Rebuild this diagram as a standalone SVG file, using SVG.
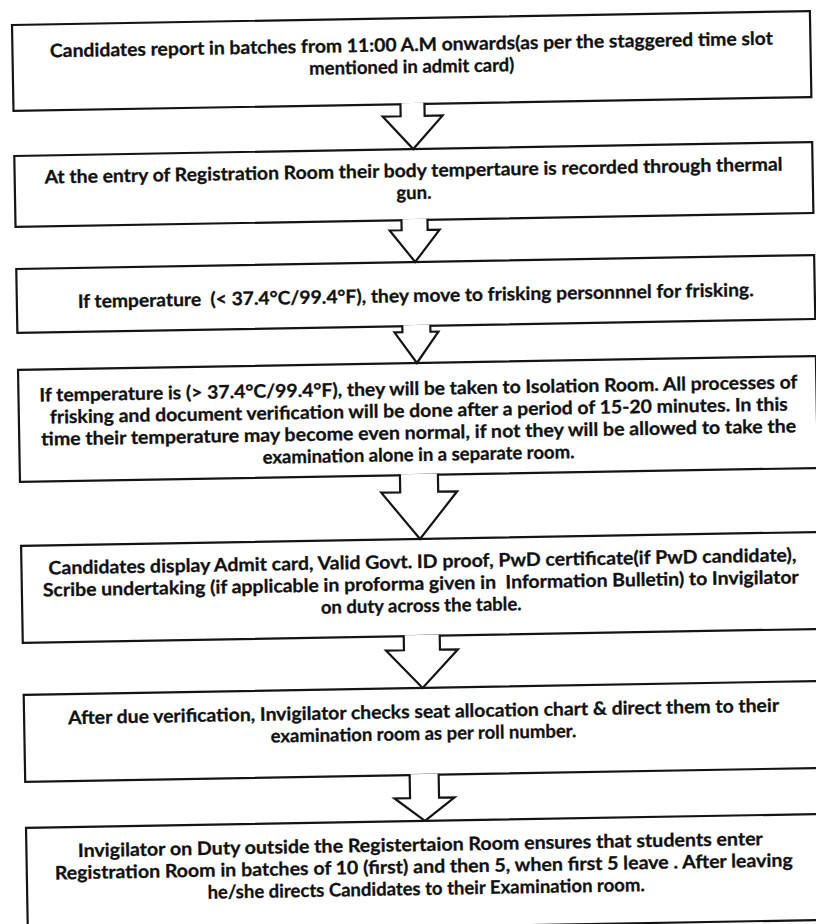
<svg xmlns="http://www.w3.org/2000/svg" width="816" height="924" viewBox="0 0 816 924">
<style>
.box{fill:#fff;stroke:#141414;stroke-width:2.2}
.arrow{fill:#fff;stroke:#141414;stroke-width:2.2;stroke-linejoin:miter}
.t{font-family:Lato,"Open Sans","Liberation Sans",sans-serif;font-weight:bold;font-size:18.5px;fill:#111;stroke:#111;stroke-width:0.3;text-anchor:middle}
</style>
<rect width="816" height="924" fill="#fff"/>
<g transform="rotate(-1 12 25)">
<g id="n1">
<rect class="box" x="12" y="25" width="798" height="86"/>
<text class="t" x="411" y="58" textLength="723" lengthAdjust="spacingAndGlyphs">Candidates report in batches from 11:00 A.M onwards(as per the staggered time slot</text>
<text class="t" x="411" y="80">mentioned in admit card)</text>
</g>
<g id="n2">
<rect class="box" x="12" y="156" width="798" height="71"/>
<text class="t" x="411" y="184" textLength="738" lengthAdjust="spacingAndGlyphs">At the entry of Registration Room their body tempertaure is recorded through thermal</text>
<text class="t" x="411" y="206">gun.</text>
</g>
<g id="n3">
<rect class="box" x="12" y="269" width="798" height="64"/>
<text class="t" x="411" y="309" textLength="676" lengthAdjust="spacingAndGlyphs" xml:space="preserve">If temperature  (&lt; 37.4°C/99.4°F), they move to frisking personnnel for frisking.</text>
</g>
<g id="n4">
<rect class="box" x="12" y="370" width="798" height="112"/>
<text class="t" x="412" y="402" textLength="758" lengthAdjust="spacingAndGlyphs">If temperature is (&gt; 37.4°C/99.4°F), they will be taken to Isolation Room. All processes of</text>
<text class="t" x="412" y="424" textLength="738" lengthAdjust="spacingAndGlyphs">frisking and document verification will be done after a period of 15-20 minutes. In this</text>
<text class="t" x="411.5" y="446" textLength="755" lengthAdjust="spacingAndGlyphs">time their temperature may become even normal, if not they will be allowed to take the</text>
<text class="t" x="411" y="468">examination alone in a separate room.</text>
</g>
<g id="n5">
<rect class="box" x="12" y="546" width="798" height="97"/>
<text class="t" x="413" y="575" textLength="748" lengthAdjust="spacingAndGlyphs">Candidates display Admit card, Valid Govt. ID proof, PwD certificate(if PwD candidate),</text>
<text class="t" x="411" y="597" textLength="756" lengthAdjust="spacingAndGlyphs" xml:space="preserve">Scribe undertaking (if applicable in proforma given in  Information Bulletin) to Invigilator</text>
<text class="t" x="411" y="619">on duty across the table.</text>
</g>
<g id="n6">
<rect class="box" x="12" y="695" width="798" height="87"/>
<text class="t" x="411.5" y="725" textLength="711" lengthAdjust="spacingAndGlyphs">After due verification, Invigilator checks seat allocation chart &amp; direct them to their</text>
<text class="t" x="411" y="747">examination room as per roll number.</text>
</g>
<g id="n7">
<rect class="box" x="12" y="828" width="798" height="106"/>
<text class="t" x="406" y="858" textLength="685" lengthAdjust="spacingAndGlyphs">Invigilator on Duty outside the Registertaion Room ensures that students enter</text>
<text class="t" x="409" y="880" textLength="738" lengthAdjust="spacingAndGlyphs">Registration Room in batches of 10 (first) and then 5, when first 5 leave . After leaving</text>
<text class="t" x="411" y="902">he/she directs Candidates to their Examination room.</text>
</g>
<g id="connectors">
<path class="arrow" d="M399,110 V123 H381 L411,156 L441,123 H423 V110"/>
<path class="arrow" d="M398,226 V237 H386 L411,269 L436,237 H424 V226"/>
<path class="arrow" d="M397,332 V339 H389 L411,370 L433,339 H425 V332"/>
<path class="arrow" d="M392,481 V499 H373 L411,546 L449,499 H430 V481"/>
<path class="arrow" d="M393,642 V657 H375 L411,695 L447,657 H429 V642"/>
<path class="arrow" d="M396.5,781 V805 H381 L411,828 L441,805 H425.5 V781"/>
</g>
</g>
</svg>
